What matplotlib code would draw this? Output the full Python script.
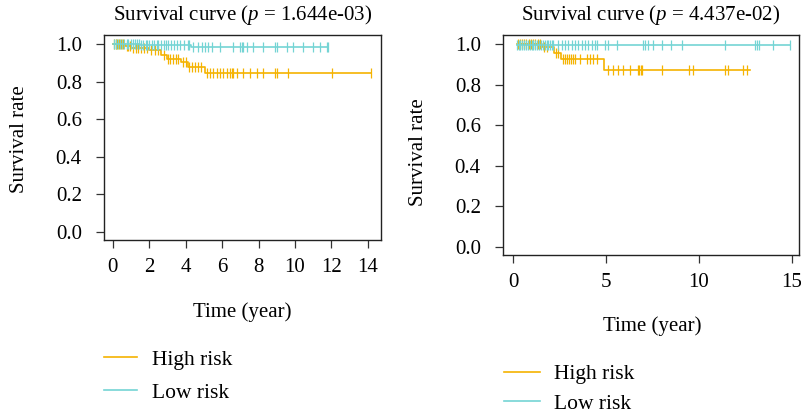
import numpy as np
import matplotlib.pyplot as plt

plt.rcParams["font.family"] = "Liberation Serif"
plt.rcParams["mathtext.fontset"] = "custom"
plt.rcParams["mathtext.it"] = "Liberation Serif:italic"
plt.rcParams["mathtext.rm"] = "Liberation Serif"

high_color = "#F5B301"
low_color = "#74D4D4"

# Left cohort: Kaplan-Meier steps (time in years, survival) and censor times
left_high_times = [0, 0.65, 1.0, 2.0, 2.65, 2.95, 3.75, 4.1, 5.05]
left_high_surv = [1.0, 0.99, 0.98, 0.97, 0.94, 0.918, 0.905, 0.88, 0.848]
left_high_end = 14.2
left_high_censor = [0.05, 0.15, 0.25, 0.35, 0.45, 0.55, 0.75, 0.85, 0.95,
                    1.1, 1.25, 1.4, 1.55, 1.7, 1.85, 2.1, 2.3, 2.45, 2.8,
                    3.05, 3.15, 3.3, 3.45, 3.6, 3.85, 4.0, 4.2, 4.35, 4.5,
                    4.7, 4.85, 5.15, 5.33, 5.51, 5.70, 5.88, 6.06, 6.25,
                    6.43, 6.52, 6.61, 6.8, 7.16, 7.53, 7.90, 8.26, 8.9,
                    8.99, 9.63, 12.02, 14.2]

left_low_times = [0, 1.5, 4.3]
left_low_surv = [1.0, 0.996, 0.983]
left_low_end = 11.83
left_low_censor = [0.05, 0.15, 0.3, 0.4, 0.5, 0.6, 0.75, 0.85, 1.0, 1.1, 1.2,
                   1.3, 1.45, 1.55, 1.65, 1.8, 1.9, 2.0, 2.15, 2.25, 2.4,
                   2.5, 2.65, 2.8, 2.9, 3.05, 3.2, 3.35, 3.5, 3.7, 3.9, 4.1,
                   4.2, 4.41, 4.69, 4.87, 5.05, 5.24, 5.42, 5.88, 6.61, 6.98,
                   7.07, 7.16, 7.34, 7.71, 8.26, 8.9, 8.99, 9.54, 9.91,
                   10.46, 11.01, 11.37, 11.74, 11.83]

# Right cohort
right_high_times = [0.2, 1.55, 2.2, 2.6, 4.9]
right_high_surv = [1.0, 0.983, 0.955, 0.925, 0.872]
right_high_end = 12.74
right_high_censor = [0.27, 0.4, 0.5, 0.6, 0.7, 0.85, 0.95, 1.05, 1.2, 1.35,
                     1.45, 1.65, 1.83, 2.3, 2.4, 2.7, 2.8, 2.9, 3.0, 3.1,
                     3.2, 3.33, 3.6, 3.96, 4.14, 4.32, 4.5, 5.12, 5.39, 5.66,
                     5.93, 6.29, 6.74, 6.8, 6.86, 6.92, 7.99, 9.48, 9.69,
                     11.4, 11.58, 12.38, 12.56]

right_low_times = [0.2]
right_low_surv = [0.994]
right_low_end = 14.9
right_low_censor = [0.2, 0.3, 0.4, 0.5, 0.6, 0.7, 0.8, 0.9, 1.0, 1.1, 1.2,
                    1.3, 1.4, 1.5, 1.6, 1.7, 1.8, 1.9, 2.0, 2.1, 2.17, 2.44,
                    2.62, 2.8, 2.97, 3.15, 3.33, 3.51, 3.69, 3.87, 4.05, 4.23,
                    4.41, 4.5, 4.95, 5.12, 5.57, 7.0, 7.1, 7.27, 7.54, 7.99,
                    8.48, 9.1, 11.4, 13.0, 13.1, 13.24, 13.96, 14.89]


def step_at(times, surv, t):
    idx = np.searchsorted(times, t, side="right") - 1
    return np.asarray(surv)[np.clip(idx, 0, None)]


def km(ax, times, surv, end, censor, color, label):
    x = list(times) + [end]
    y = list(surv) + [surv[-1]]
    line, = ax.plot(x, y, drawstyle="steps-post", color=color, lw=1.2,
                    label=label)
    c = np.array(censor)
    ax.plot(c, step_at(times, surv, c), ls="none", marker="|", ms=7,
            mew=0.9, color=color)
    return line


def style(ax, xlim, ylim, xticks):
    ax.set_xlim(*xlim)
    ax.set_ylim(*ylim)
    ax.set_xticks(xticks)
    ax.set_yticks([0.0, 0.2, 0.4, 0.6, 0.8, 1.0])
    ax.set_yticklabels(["0.0", "0.2", "0.4", "0.6", "0.8", "1.0"])
    ax.tick_params(length=6, width=0.9, labelsize=15, color="#333333")
    ax.tick_params(axis="x", pad=7)
    ax.tick_params(axis="y", pad=10)
    for s in ax.spines.values():
        s.set_linewidth(1.0)
        s.set_color("#222222")


fig = plt.figure(figsize=(8.01, 4.13), dpi=100)
W, H = 801, 413

ax1 = fig.add_axes([104 / W, 1 - 240 / H, 277 / W, 205 / H])
h1 = km(ax1, left_high_times, left_high_surv, left_high_end,
        left_high_censor, high_color, "High risk")
l1 = km(ax1, left_low_times, left_low_surv, left_low_end,
        left_low_censor, low_color, "Low risk")
style(ax1, (-0.49, 14.73), (-0.043, 1.048), [0, 2, 4, 6, 8, 10, 12, 14])
ax1.set_title(r"Survival curve ($p$ = 1.644e-03)", fontsize=15, pad=11)

ax2 = fig.add_axes([503 / W, 1 - 255 / H, 296 / W, 220 / H])
h2 = km(ax2, right_high_times, right_high_surv, right_high_end,
        right_high_censor, high_color, "High risk")
l2 = km(ax2, right_low_times, right_low_surv, right_low_end,
        right_low_censor, low_color, "Low risk")
style(ax2, (-0.54, 15.38), (-0.039, 1.044), [0, 5, 10, 15])
ax2.set_title(r"Survival curve ($p$ = 4.437e-02)", fontsize=15, pad=11)

# axis labels
fig.text(242.5 / W, 1 - 312 / H, "Time (year)", ha="center", va="center",
         fontsize=15)
fig.text(652 / W, 1 - 326 / H, "Time (year)", ha="center", va="center",
         fontsize=15)
fig.text(20 / W, 1 - 139 / H, "Survival rate", ha="center", va="center",
         rotation=90, fontsize=15)
fig.text(419 / W, 1 - 152 / H, "Survival rate", ha="center", va="center",
         rotation=90, fontsize=15)

# legends under each panel
ax1.legend([h1, l1], ["High risk", "Low risk"], loc="center left",
           bbox_to_anchor=(104 / W, 1 - 376 / H),
           bbox_transform=fig.transFigure, frameon=False, fontsize=15.5,
           borderpad=0, borderaxespad=0, handlelength=1.55,
           handletextpad=0.7, labelspacing=0.6)
ax2.legend([h2, l2], ["High risk", "Low risk"], loc="center left",
           bbox_to_anchor=(504 / W, 1 - 389 / H),
           bbox_transform=fig.transFigure, frameon=False, fontsize=15.5,
           borderpad=0, borderaxespad=0, handlelength=1.65,
           handletextpad=0.65, labelspacing=0.45)

fig.savefig("out.png", dpi=100)
